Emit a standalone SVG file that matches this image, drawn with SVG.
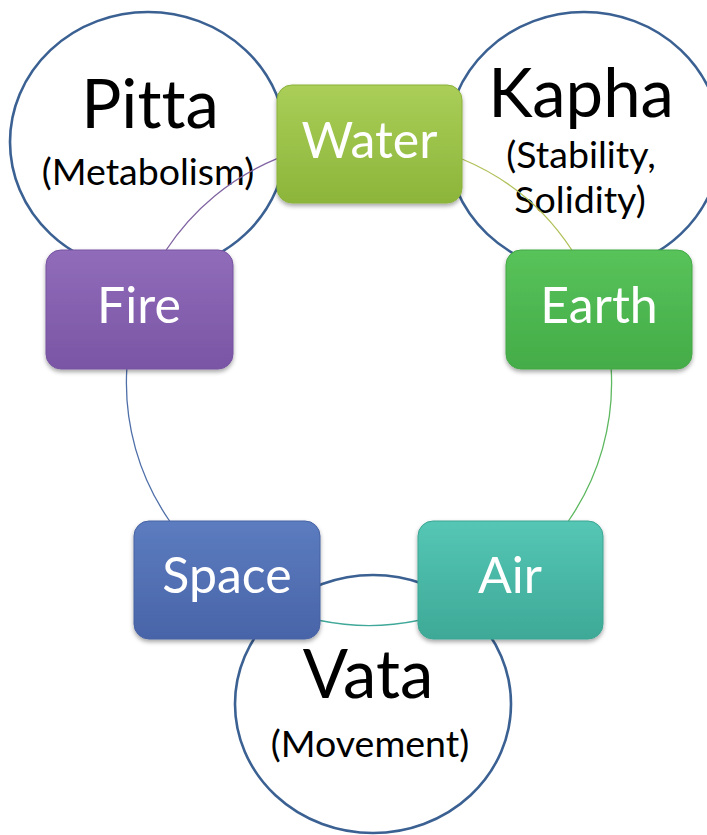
<svg xmlns="http://www.w3.org/2000/svg" width="707" height="835" viewBox="0 0 707 835">
<defs>
<style>
text{font-variant-ligatures:none;font-feature-settings:"liga" 0,"clig" 0}
.dosha{fill:none;stroke:#3B6193;stroke-width:2.6}
.dname{font-family:Lato,"Open Sans",sans-serif;font-size:67px;fill:#000;text-anchor:middle}
.dsub{font-family:Lato,"Open Sans",sans-serif;font-size:37.5px;fill:#000;text-anchor:middle}
.box{stroke-width:1;filter:url(#sh)}
.lbl{font-family:Lato,"Open Sans",sans-serif;font-size:50px;fill:#fff;text-anchor:middle}
.con{fill:none;stroke-width:1.3}
</style>
<filter id="sh" x="-10%" y="-10%" width="120%" height="130%">
<feDropShadow dx="0" dy="2.5" stdDeviation="2" flood-color="#000" flood-opacity="0.35"/>
</filter>
<linearGradient id="gWater" x1="0" y1="0" x2="0" y2="1"><stop offset="0" stop-color="#AACE58"/><stop offset="1" stop-color="#8CB53A"/></linearGradient>
<linearGradient id="gFire" x1="0" y1="0" x2="0" y2="1"><stop offset="0" stop-color="#906CBA"/><stop offset="1" stop-color="#7A55A5"/></linearGradient>
<linearGradient id="gEarth" x1="0" y1="0" x2="0" y2="1"><stop offset="0" stop-color="#58C35A"/><stop offset="1" stop-color="#44AC47"/></linearGradient>
<linearGradient id="gSpace" x1="0" y1="0" x2="0" y2="1"><stop offset="0" stop-color="#5C7CC0"/><stop offset="1" stop-color="#4964A8"/></linearGradient>
<linearGradient id="gAir" x1="0" y1="0" x2="0" y2="1"><stop offset="0" stop-color="#55C6B5"/><stop offset="1" stop-color="#3EA997"/></linearGradient>
</defs>
<rect width="707" height="835" fill="#fff"/>
<g id="pitta">
<ellipse class="dosha" cx="148" cy="142" rx="138" ry="130"/>
<text class="dname" x="150" y="128">Pitta</text>
<text class="dsub" x="148" y="185">(Metabolism)</text>
</g>
<g id="kapha">
<ellipse class="dosha" cx="584" cy="142" rx="137" ry="130"/>
<text class="dname" x="581" y="117">Kapha</text>
<text class="dsub" x="581" y="168">(Stability,</text>
<text class="dsub" x="580" y="213">Solidity)</text>
</g>
<g id="vata">
<ellipse class="dosha" cx="373" cy="704" rx="138" ry="129"/>
<text class="dname" x="368" y="698">Vata</text>
<text class="dsub" x="370" y="757">(Movement)</text>
</g>
<g id="connectors">
<path class="con" stroke="#8064A2" d="M166.2,250 A242.5,242.5 0 0 1 277,158.6"/>
<path class="con" stroke="#B2C05A" d="M462,159 A242.5,242.5 0 0 1 571.8,250"/>
<path class="con" stroke="#5DB85F" d="M611.2,369 A242.5,242.5 0 0 1 568.4,521"/>
<path class="con" stroke="#3FA898" d="M418,620.5 A242.5,242.5 0 0 1 320,620.5"/>
<path class="con" stroke="#4F6FA8" d="M169.6,521 A242.5,242.5 0 0 1 126.8,369"/>
</g>
<g id="water">
<rect class="box" x="277" y="85" width="185" height="118" rx="15" fill="url(#gWater)" stroke="#8AB23A"/>
<text class="lbl" x="369.5" y="158">Water</text>
</g>
<g id="fire">
<rect class="box" x="46" y="250" width="187" height="119" rx="15" fill="url(#gFire)" stroke="#7652A0"/>
<text class="lbl" x="139" y="323">Fire</text>
</g>
<g id="earth">
<rect class="box" x="506" y="250" width="186" height="119" rx="15" fill="url(#gEarth)" stroke="#42A845"/>
<text class="lbl" x="599" y="323">Earth</text>
</g>
<g id="space">
<rect class="box" x="134" y="521" width="186" height="118" rx="15" fill="url(#gSpace)" stroke="#4762A3"/>
<text class="lbl" x="227" y="593">Space</text>
</g>
<g id="air">
<rect class="box" x="418" y="521" width="185" height="118" rx="15" fill="url(#gAir)" stroke="#3CA593"/>
<text class="lbl" x="510" y="593">Air</text>
</g>
</svg>
